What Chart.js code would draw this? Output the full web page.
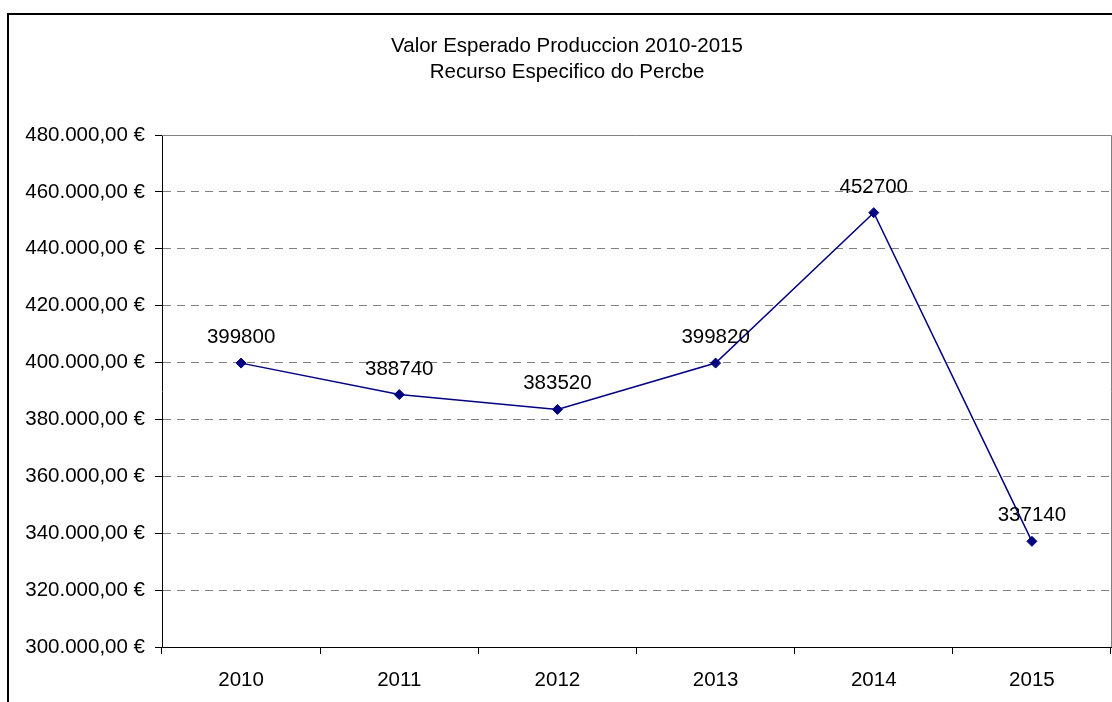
<!DOCTYPE html>
<html>
<head>
<meta charset="utf-8">
<script src="https://cdn.jsdelivr.net/npm/chart.js@4"></script>
<style>
  html, body { margin: 0; padding: 0; background: #fff; overflow: hidden; }
  #frame {
    position: absolute; left: 7px; top: 13px; width: 2000px; height: 2000px;
    border-left: 2px solid #000; border-top: 2px solid #000;
  }
  #chart { position: absolute; left: 0; top: 0; }
</style>
</head>
<body>
<div id="frame"></div>
<canvas id="chart" width="1134" height="702"></canvas>
<script>
const years = ['2010', '2011', '2012', '2013', '2014', '2015'];
const valores = [399800, 388740, 383520, 399820, 452700, 337140];
const titulo = ['Valor Esperado Produccion 2010-2015', 'Recurso Especifico do Percbe'];
const yMin = 300000, yMax = 480000, yStep = 20000;

const FONT = '"Liberation Sans", Arial, sans-serif';
const FSIZE = 20.5;

function euro(v) {
    const s = String(Math.round(v)).replace(/\B(?=(\d{3})+(?!\d))/g, '.');
    return s + ',00 €';
}

// titulo centrado en el marco, borde gris del area de trazado y etiquetas de datos
const plotExtras = {
    id: 'plotExtras',
    beforeDatasetsDraw(chart) {
        const { ctx, chartArea: a } = chart;
        ctx.save();
        ctx.strokeStyle = '#808080';
        ctx.lineWidth = 1;
        ctx.beginPath();
        ctx.moveTo(a.left, a.top + 0.5);
        ctx.lineTo(a.right + 0.5, a.top + 0.5);
        ctx.lineTo(a.right + 0.5, a.bottom);
        ctx.stroke();

        ctx.font = FSIZE + 'px ' + FONT;
        ctx.fillStyle = '#000';
        ctx.textAlign = 'center';
        ctx.textBaseline = 'middle';
        titulo.forEach((t, i) => ctx.fillText(t, 567, 46 + i * 26));
        ctx.restore();
    },
    afterDatasetsDraw(chart) {
        const ctx = chart.ctx;
        const meta = chart.getDatasetMeta(0);
        ctx.save();
        ctx.font = FSIZE + 'px ' + FONT;
        ctx.fillStyle = '#000';
        ctx.textAlign = 'center';
        ctx.textBaseline = 'alphabetic';
        meta.data.forEach((pt, i) => {
            ctx.fillText(String(valores[i]), pt.x, pt.y - 20);
        });
        ctx.restore();
    }
};

const ctx = document.getElementById('chart').getContext('2d');
new Chart(ctx, {
    type: 'line',
    data: {
        labels: years,
        datasets: [{
            data: valores,
            borderColor: '#000080',
            backgroundColor: '#000080',
            borderWidth: 1.5,
            pointStyle: 'rectRot',
            pointRadius: 5,
            pointBorderWidth: 1,
            tension: 0,
            fill: false
        }]
    },
    options: {
        responsive: false,
        animation: false,
        layout: { padding: { left: 0, right: 23, top: 135, bottom: 0 } },
        plugins: {
            legend: { display: false },
            tooltip: { enabled: false },
            title: { display: false }
        },
        scales: {
            x: {
                offset: true,
                grid: {
                    offset: true,
                    drawOnChartArea: false,
                    drawTicks: true,
                    tickLength: 7,
                    tickColor: '#000'
                },
                border: { display: true, color: '#000', width: 1 },
                ticks: {
                    color: '#000',
                    padding: 14,
                    maxRotation: 0,
                    font: { family: FONT, size: FSIZE, lineHeight: 1.2 }
                },
                afterFit(scale) { scale.height = 55; }
            },
            y: {
                min: yMin,
                max: yMax,
                grid: {
                    color: (c) => (c.tick && (c.tick.value === yMax || c.tick.value === yMin)) ? 'rgba(0,0,0,0)' : '#808080',
                    lineWidth: 1,
                    tickLength: 7,
                    tickColor: '#000'
                },
                border: { display: true, color: '#000', width: 1, dash: [8, 6] },
                ticks: {
                    stepSize: yStep,
                    color: '#000',
                    padding: 10,
                    font: { family: FONT, size: FSIZE, lineHeight: 1.2 },
                    callback: (v) => euro(v)
                },
                afterFit(scale) { scale.width = 162; }
            }
        }
    },
    plugins: [plotExtras]
});
</script>
</body>
</html>
